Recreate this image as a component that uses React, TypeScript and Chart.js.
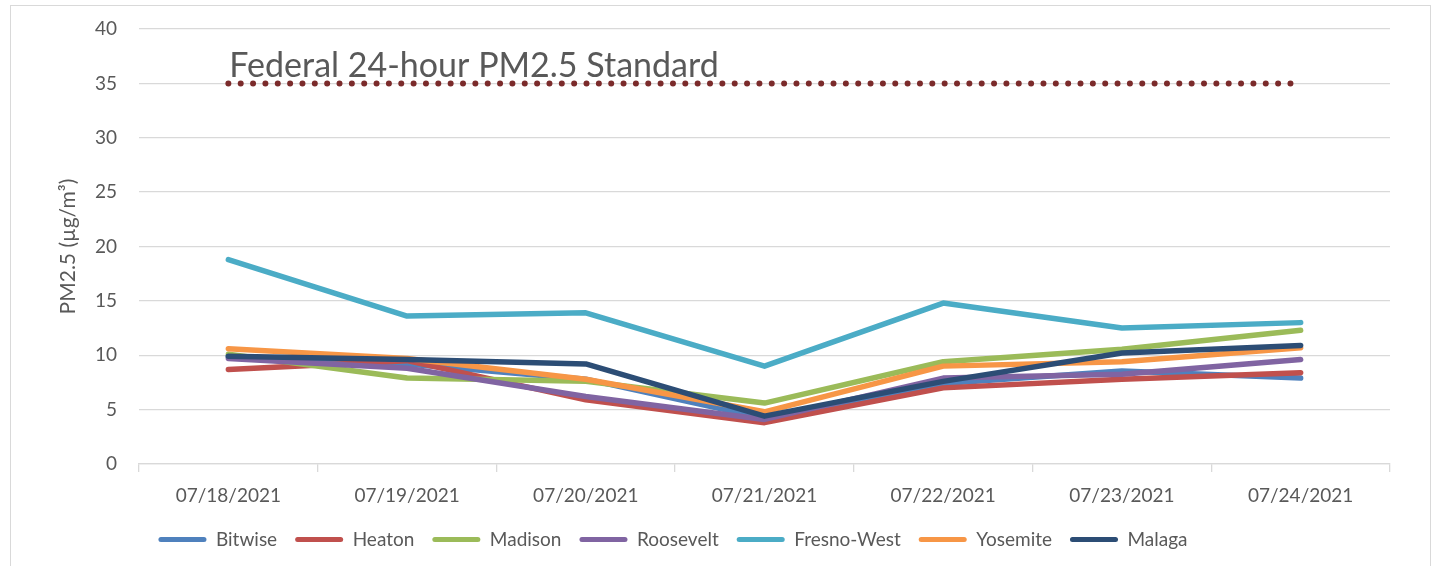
import React, { useEffect, useRef } from "react";
import { Chart, registerables } from "chart.js";

Chart.register(...registerables);

const categories = ["07/18/2021", "07/19/2021", "07/20/2021", "07/21/2021", "07/22/2021", "07/23/2021", "07/24/2021"];
const bitwise = [9.9, 9.2, 7.8, 4.2, 7.4, 8.55, 7.9];
const heaton = [8.7, 9.5, 5.9, 3.8, 7.0, 7.8, 8.4];
const madison = [10.1, 7.9, 7.6, 5.6, 9.4, 10.55, 12.3];
const roosevelt = [9.7, 8.8, 6.2, 4.1, 7.9, 8.25, 9.6];
const fresnoWest = [18.8, 13.6, 13.9, 9.0, 14.8, 12.5, 13.0];
const yosemite = [10.6, 9.7, 7.8, 4.8, 9.0, 9.4, 10.7];
const malaga = [9.9, 9.6, 9.2, 4.4, 7.6, 10.2, 10.9];
const federalStandard = [35, 35, 35, 35, 35, 35, 35];
const federalLabel = "Federal 24-hour PM2.5 Standard";
const yTicks = [0, 5, 10, 15, 20, 25, 30, 35, 40];

const seriesNames = ["Bitwise", "Heaton", "Madison", "Roosevelt", "Fresno-West", "Yosemite", "Malaga"];
const seriesValues = [bitwise, heaton, madison, roosevelt, fresnoWest, yosemite, malaga];
const seriesColors = ["#4F81BD", "#C0504D", "#9BBB59", "#8064A2", "#4BACC6", "#F79646", "#2C4D75"];

const FONT = "Lato, 'Open Sans', sans-serif";
const GRAY = "#595959";
const GRID = "#d9d9d9";

export default function App() {
  const ref = useRef<HTMLCanvasElement | null>(null);

  useEffect(() => {
    if (!ref.current) return;
    const n = seriesNames.length;
    const datasets: any[] = seriesNames.map((name, i) => ({
      label: name,
      data: seriesValues[i],
      borderColor: seriesColors[i],
      backgroundColor: seriesColors[i],
      borderWidth: 5.5,
      pointRadius: 0,
      borderCapStyle: "round",
      borderJoinStyle: "round",
      tension: 0,
      fill: false,
      order: n - i,
    }));
    datasets.push({
      label: "__federal",
      data: federalStandard,
      borderColor: "#7B2B2B",
      backgroundColor: "#7B2B2B",
      borderWidth: 6,
      borderDash: [0, 12.35],
      borderCapStyle: "round",
      pointRadius: 0,
      fill: false,
      order: n + 1,
    });

    const labelPlugin = {
      id: "federalLabel",
      afterDatasetsDraw(chart: any) {
        const { ctx, scales } = chart;
        const x = scales.x.getPixelForValue(0);
        const y = scales.y.getPixelForValue(35);
        ctx.save();
        ctx.font = `34px ${FONT}`;
        ctx.fillStyle = GRAY;
        ctx.textAlign = "left";
        ctx.textBaseline = "alphabetic";
        ctx.fillText(federalLabel, x + 1, y - 6);
        ctx.restore();
      },
    };

    const legendShift = {
      id: "legendShift",
      afterLayout(chart: any) {
        const lg = chart.legend;
        if (lg) {
          const dx = -22;
          lg.left += dx;
          lg.right += dx;
        }
      },
    };

    const chart = new Chart(ref.current, {
      type: "line",
      data: { labels: categories, datasets },
      plugins: [labelPlugin, legendShift],
      options: {
        responsive: false,
        animation: false,
        devicePixelRatio: 1,
        layout: { padding: { top: 29, right: 44, left: 0, bottom: 7 } },
        plugins: {
          tooltip: { enabled: false },
          legend: {
            position: "bottom",
            labels: {
              font: { family: FONT, size: 19 },
              color: GRAY,
              boxWidth: 48,
              boxHeight: 5,
              padding: 18,
              useBorderRadius: true,
              borderRadius: 2.5,
              generateLabels: (c: any) =>
                c.data.datasets
                  .map((ds: any, i: number) => ({
                    text: ds.label,
                    fillStyle: ds.borderColor,
                    strokeStyle: ds.borderColor,
                    lineWidth: 0,
                    hidden: false,
                    datasetIndex: i,
                    fontColor: GRAY,
                    borderRadius: 2.5,
                  }))
                  .filter((l: any) => l.text !== "__federal"),
            },
          },
        },
        scales: {
          x: {
            offset: true,
            afterFit: (s: any) => {
              s.height = 48;
            },
            grid: {
              offset: true,
              drawOnChartArea: false,
              drawTicks: true,
              tickLength: 8,
              color: GRID,
              lineWidth: 1.3,
            },
            border: { display: true, color: GRID, width: 1.3 },
            ticks: {
              font: { family: FONT, size: 19 },
              color: GRAY,
              padding: 12,
              maxRotation: 0,
            },
          },
          y: {
            min: 0,
            max: 40,
            afterFit: (s: any) => {
              s.width = 139;
            },
            afterBuildTicks: (s: any) => {
              s.ticks = yTicks.map((v) => ({ value: v }));
            },
            grid: {
              color: GRID,
              lineWidth: 1.3,
              drawTicks: true,
              tickLength: 22,
              tickColor: "rgba(0,0,0,0)",
            },
            border: { display: false },
            ticks: {
              font: { family: FONT, size: 19 },
              color: GRAY,
              padding: 0,
            },
            title: {
              display: true,
              text: "PM2.5 (µg/m³)",
              font: { family: FONT, size: 21 },
              color: GRAY,
              padding: { top: 56, bottom: 0 },
            },
          },
        },
      },
    });
    return () => chart.destroy();
  }, []);

  return (
    <div
      style={{
        position: "absolute",
        left: 0,
        top: 0,
        width: 1434,
        height: 566,
        overflow: "hidden",
        background: "#fff",
      }}
    >
      <div
        style={{
          position: "absolute",
          left: 10,
          top: 5,
          width: 1421,
          height: 700,
          border: `1.5px solid ${GRID}`,
          boxSizing: "border-box",
        }}
      />
      <canvas ref={ref} width={1434} height={566} style={{ position: "absolute", left: 0, top: 0 }} />
    </div>
  );
}
